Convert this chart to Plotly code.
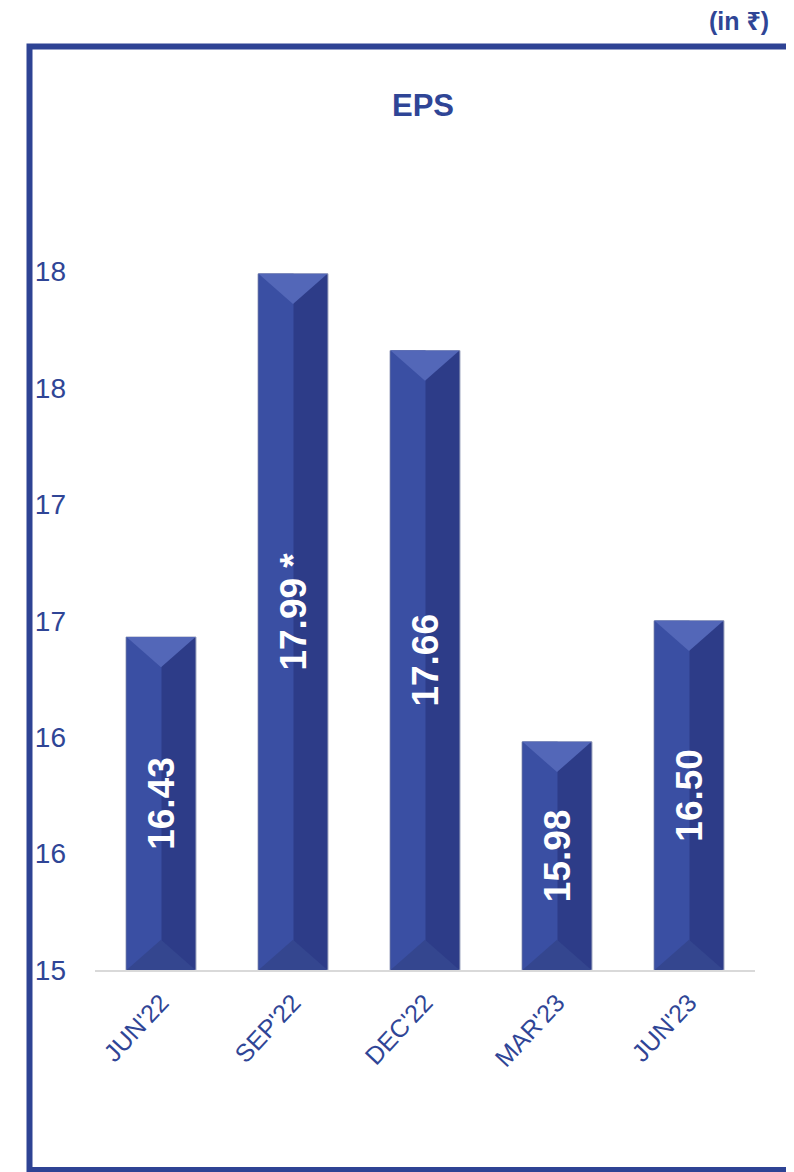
import plotly.graph_objects as go

# ---- data ----
categories = ["JUN'22", "SEP'22", "DEC'22", "MAR'23", "JUN'23"]
eps_values = [16.43, 17.99, 17.66, 15.98, 16.50]
bar_labels = ["16.43", "\u00a0\u00a017.99 *", "17.66", "15.98", "16.50"]
y_tick_vals = [15, 15.5, 16, 16.5, 17, 17.5, 18]
y_tick_text = ["15", "16", "16", "17", "17", "18", "18"]

# ---- style ----
BASE = 15
BLUE = "#2E4394"
TEXT_BLUE = "#2F4596"
FACE_DARK = "#2D3C88"
FACE_LIGHT = "#3A4FA3"
BEVEL_TOP = "#5367B8"
BEVEL_BOTTOM = "#34468F"
BAR_W = 0.53
BEVEL_H = 0.13
FONT = "Liberation Sans, Arial, Noto Sans, DejaVu Sans, sans-serif"

# the page body has an 8px margin; work in page pixels and convert
OFF = 8
W, H = 794 - OFF, 1172 - OFF
PLOT_L, PLOT_R, PLOT_T, PLOT_B = 95, 755, 155, 970  # page pixels
ML, MR = PLOT_L - OFF, W - (PLOT_R - OFF)
MT, MB = PLOT_T - OFF, H - (PLOT_B - OFF)
PW, PH = W - ML - MR, H - MT - MB

def px_x(p):
    return (p - OFF - ML) / PW

def px_y(p):
    return (H - MB - (p - OFF)) / PH

xs = list(range(len(categories)))
lengths = [v - BASE for v in eps_values]
half = BAR_W / 2 - 0.004

fig = go.Figure()

# dark full face
fig.add_trace(go.Bar(
    x=xs, y=lengths, base=BASE, width=BAR_W,
    marker=dict(color=FACE_DARK, line=dict(color="#9CA3BE", width=1)),
    hoverinfo="skip", showlegend=False,
))
# lighter left half
fig.add_trace(go.Bar(
    x=xs, y=lengths, base=BASE, width=BAR_W / 2, offset=-half,
    marker=dict(color=FACE_LIGHT, line=dict(width=0)),
    hoverinfo="skip", showlegend=False,
))
# bevels
for xi, v in zip(xs, eps_values):
    fig.add_trace(go.Scatter(
        x=[xi - half, xi + half, xi, xi - half],
        y=[v, v, v - BEVEL_H, v],
        fill="toself", fillcolor=BEVEL_TOP, mode="none",
        hoverinfo="skip", showlegend=False,
    ))
    fig.add_trace(go.Scatter(
        x=[xi - half, xi + half, xi, xi - half],
        y=[BASE, BASE, BASE + BEVEL_H, BASE],
        fill="toself", fillcolor=BEVEL_BOTTOM, mode="none",
        hoverinfo="skip", showlegend=False,
    ))
# labels (transparent bar on top)
fig.add_trace(go.Bar(
    x=xs, y=lengths, base=BASE, width=BAR_W,
    marker=dict(color="rgba(0,0,0,0)", line=dict(width=0)),
    text=bar_labels, textposition="inside", insidetextanchor="middle",
    textangle=-90, constraintext="none",
    textfont=dict(family=FONT, size=37, color="white", weight="bold"),
    hoverinfo="skip", showlegend=False,
))

fig.update_layout(
    width=W, height=H,
    margin=dict(l=ML, r=MR, t=MT, b=MB),
    barmode="overlay",
    paper_bgcolor="white", plot_bgcolor="rgba(0,0,0,0)",
    title=dict(text="<b>EPS</b>", x=(423 - OFF) / W, xanchor="center",
               y=1 - (105 - OFF) / H, yanchor="middle",
               font=dict(family=FONT, size=31, color=TEXT_BLUE)),
    xaxis=dict(
        range=[-0.5, len(categories) - 0.5],
        tickvals=xs, ticktext=categories, tickangle=-47,
        tickfont=dict(family=FONT, size=25, color=TEXT_BLUE),
        showgrid=False, zeroline=False,
        showline=True, linecolor="#D9D9D9", linewidth=2,
        ticks="", ticklabelstandoff=6, fixedrange=True,
    ),
    yaxis=dict(
        range=[BASE, 18.5],
        tickvals=y_tick_vals, ticktext=y_tick_text,
        tickfont=dict(family=FONT, size=28, color=TEXT_BLUE),
        showgrid=False, zeroline=False, showline=False,
        ticks="", ticklabelstandoff=28, fixedrange=True,
    ),
    shapes=[
        dict(type="path", xref="paper", yref="paper",
             path=f"M {px_x(900)} {px_y(46.5)} L {px_x(29.5)} {px_y(46.5)} "
                  f"L {px_x(29.5)} {px_y(1170)} L {px_x(900)} {px_y(1170)}",
             line=dict(color=BLUE, width=6), layer="below"),
    ],
    annotations=[
        dict(text="<b>(in ₹)</b>", xref="paper", yref="paper",
             x=px_x(771), y=px_y(21), xanchor="right", yanchor="middle",
             showarrow=False, font=dict(family=FONT, size=25, color=TEXT_BLUE)),
    ],
)

fig.write_html("out.html")
